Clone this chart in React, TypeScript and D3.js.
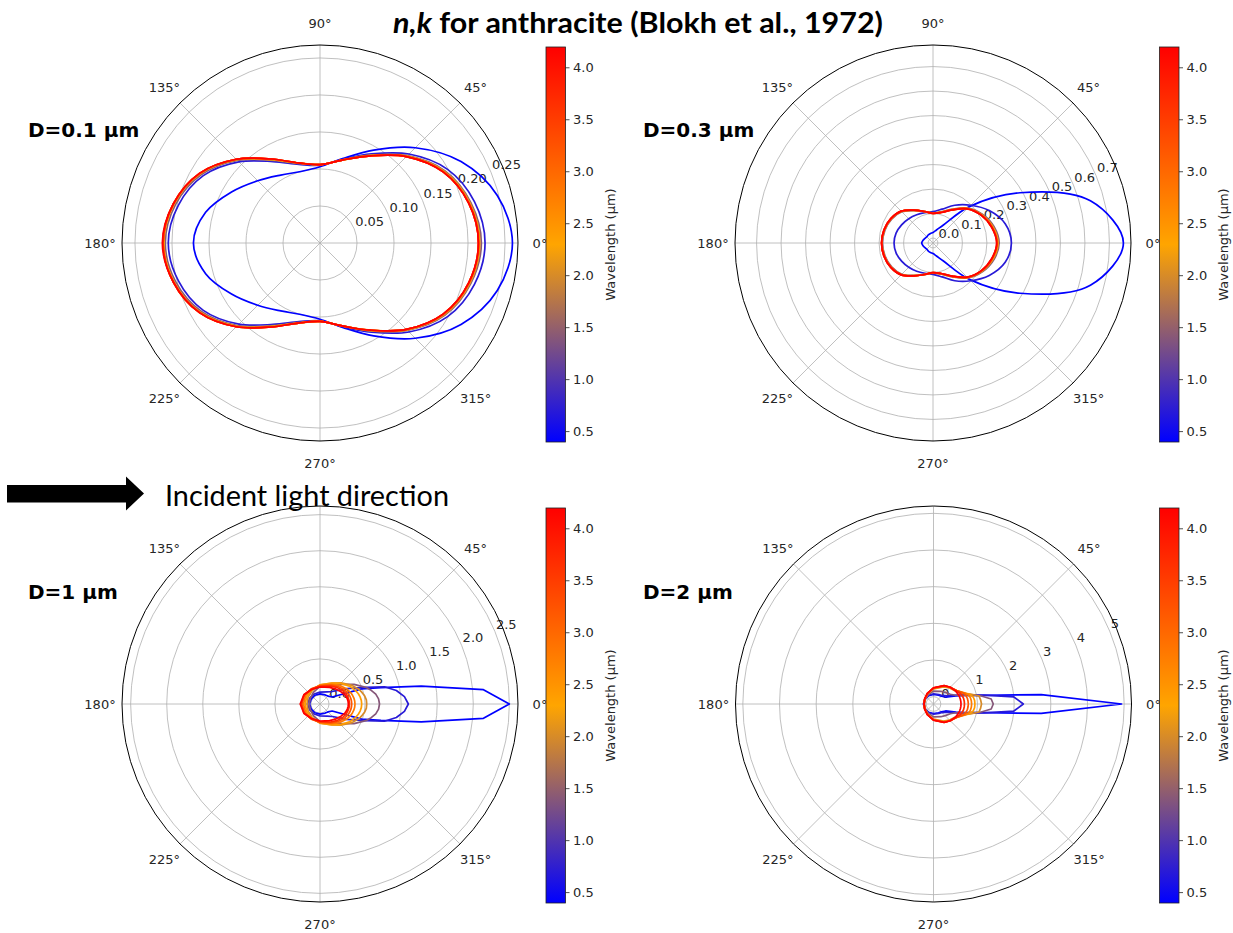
import React from 'react';
import * as d3 from 'd3';

// ---------------- data ----------------
const WAVELENGTHS = [0.4, 0.7, 1.4, 2.0, 2.4, 2.8, 3.2, 3.7, 4.2];
const CMAP_DOMAIN = [0.4, 2.3, 4.2];
const CMAP_COLORS = ['#0000ff', '#ffa500', '#ff0000'];
const CBAR_TICKS = [0.5, 1.0, 1.5, 2.0, 2.5, 3.0, 3.5, 4.0];
const THETA_TICKS = [0, 45, 90, 135, 180, 225, 270, 315];
const THETA_TICKS_LOWER = [0, 45, 135, 180, 225, 270, 315]; // 90° label hidden behind the annotation in the lower row

// scattering angles (deg), upper half; curves are symmetric about 0-180 axis
const ANGLES_SMOOTH = [0, 15, 30, 45, 60, 75, 90, 105, 120, 135, 150, 165, 180];
const ANGLES_PEAKED = [0, 5, 10, 15, 20, 30, 45, 60, 90, 120, 150, 180];

// D = 0.1 um (one row per wavelength)
const D01_VALUES = [
  [0.260, 0.248, 0.220, 0.182, 0.145, 0.118, 0.103, 0.100, 0.106, 0.119, 0.138, 0.160, 0.171],
  [0.223, 0.216, 0.199, 0.170, 0.139, 0.117, 0.105, 0.110, 0.127, 0.155, 0.182, 0.198, 0.205],
  [0.218, 0.211, 0.195, 0.167, 0.137, 0.116, 0.106, 0.111, 0.129, 0.158, 0.185, 0.202, 0.209],
  [0.216, 0.210, 0.194, 0.166, 0.137, 0.116, 0.106, 0.112, 0.130, 0.159, 0.187, 0.204, 0.211],
  [0.215, 0.209, 0.193, 0.166, 0.136, 0.116, 0.106, 0.112, 0.130, 0.159, 0.187, 0.204, 0.211],
  [0.215, 0.208, 0.193, 0.165, 0.136, 0.116, 0.106, 0.112, 0.131, 0.160, 0.188, 0.205, 0.212],
  [0.214, 0.208, 0.192, 0.165, 0.136, 0.116, 0.106, 0.112, 0.131, 0.160, 0.188, 0.205, 0.212],
  [0.214, 0.208, 0.192, 0.165, 0.136, 0.116, 0.106, 0.112, 0.131, 0.160, 0.188, 0.205, 0.212],
  [0.214, 0.208, 0.192, 0.165, 0.136, 0.116, 0.106, 0.112, 0.131, 0.160, 0.188, 0.205, 0.213],
];

// D = 0.3 um
const D03_VALUES = [
  [0.757, 0.645, 0.390, 0.190, 0.065, 0.035, 0.023, 0.020, 0.018, 0.016, 0.018, 0.022, 0.026],
  [0.300, 0.285, 0.245, 0.198, 0.158, 0.123, 0.108, 0.108, 0.113, 0.120, 0.128, 0.136, 0.139],
  [0.250, 0.238, 0.214, 0.182, 0.140, 0.112, 0.103, 0.113, 0.133, 0.160, 0.175, 0.183, 0.186],
  [0.246, 0.234, 0.211, 0.180, 0.138, 0.111, 0.102, 0.113, 0.134, 0.162, 0.177, 0.185, 0.188],
  [0.244, 0.232, 0.209, 0.179, 0.137, 0.110, 0.102, 0.113, 0.134, 0.163, 0.178, 0.186, 0.189],
  [0.242, 0.230, 0.208, 0.178, 0.137, 0.110, 0.101, 0.113, 0.135, 0.163, 0.178, 0.186, 0.189],
  [0.241, 0.229, 0.208, 0.178, 0.136, 0.109, 0.101, 0.113, 0.135, 0.164, 0.179, 0.187, 0.190],
  [0.240, 0.228, 0.207, 0.177, 0.136, 0.109, 0.101, 0.113, 0.135, 0.164, 0.179, 0.187, 0.190],
  [0.240, 0.228, 0.207, 0.177, 0.136, 0.109, 0.101, 0.113, 0.135, 0.164, 0.179, 0.187, 0.190],
];

// D = 1 um
const D1_VALUES = [
  [2.50, 2.15, 1.30, 0.75, 0.49, 0.07, 0.03, 0.02, 0.015, 0.015, 0.015, 0.02],
  [1.10, 1.05, 0.95, 0.80, 0.55, 0.30, 0.12, 0.07, 0.04, 0.035, 0.04, 0.05],
  [0.70, 0.69, 0.66, 0.61, 0.55, 0.42, 0.26, 0.18, 0.12, 0.06, 0.03, 0.025],
  [0.523, 0.52, 0.505, 0.48, 0.455, 0.39, 0.29, 0.21, 0.14, 0.09, 0.065, 0.055],
  [0.453, 0.45, 0.44, 0.425, 0.405, 0.36, 0.28, 0.21, 0.14, 0.10, 0.085, 0.083],
  [0.36, 0.358, 0.352, 0.342, 0.33, 0.30, 0.245, 0.19, 0.135, 0.112, 0.105, 0.104],
  [0.315, 0.313, 0.309, 0.302, 0.292, 0.268, 0.222, 0.178, 0.128, 0.117, 0.122, 0.125],
  [0.284, 0.282, 0.278, 0.272, 0.264, 0.243, 0.202, 0.163, 0.12, 0.114, 0.131, 0.138],
  [0.268, 0.266, 0.261, 0.253, 0.242, 0.212, 0.172, 0.140, 0.111, 0.108, 0.133, 0.150],
];

// D = 2 um
const D2_VALUES = [
  [4.93, 2.75, 1.16, 0.70, 0.45, 0.18, 0.10, 0.075, 0.06, 0.06, 0.06, 0.06],
  [2.25, 2.00, 1.20, 0.75, 0.50, 0.25, 0.13, 0.10, 0.08, 0.075, 0.075, 0.075],
  [1.43, 1.38, 1.10, 0.72, 0.48, 0.33, 0.25, 0.20, 0.15, 0.09, 0.06, 0.05],
  [1.11, 1.09, 1.06, 0.85, 0.66, 0.50, 0.42, 0.34, 0.21, 0.12, 0.07, 0.055],
  [0.93, 0.925, 0.90, 0.82, 0.68, 0.52, 0.43, 0.36, 0.22, 0.125, 0.072, 0.057],
  [0.84, 0.835, 0.82, 0.78, 0.70, 0.53, 0.44, 0.37, 0.23, 0.13, 0.075, 0.058],
  [0.75, 0.745, 0.735, 0.71, 0.67, 0.53, 0.445, 0.375, 0.235, 0.132, 0.076, 0.058],
  [0.645, 0.642, 0.635, 0.62, 0.60, 0.52, 0.446, 0.38, 0.24, 0.134, 0.077, 0.059],
  [0.55, 0.549, 0.544, 0.536, 0.528, 0.501, 0.446, 0.381, 0.242, 0.135, 0.077, 0.059],
];

const D01_RTICKS = [0.05, 0.10, 0.15, 0.20, 0.25];
const D03_RTICKS = [0.0, 0.1, 0.2, 0.3, 0.4, 0.5, 0.6, 0.7];
const D1_RTICKS = [0.0, 0.5, 1.0, 1.5, 2.0, 2.5];
const D2_RTICKS = [0, 1, 2, 3, 4, 5];

// ---------------- layout ----------------
const W = 1233;
const H = 933;
const R = 198;
const FONT = 'DejaVu Sans, sans-serif';
const TXT = '#262626';

const colorScale = d3.scaleLinear<string>().domain(CMAP_DOMAIN).range(CMAP_COLORS).interpolate(d3.interpolateRgb);

type Panel = {
  cx: number; cy: number; rmin: number; rmax: number; rticks: number[]; fmt: (v: number) => string;
  angles: number[]; values: number[][]; curve: d3.CurveFactory; label: string; lx: number; ly: number;
  cbx: number; cbTop: number; thetaTicks: number[];
};

const PANELS: Panel[] = [
  { cx: 320, cy: 243, rmin: 0, rmax: 0.2675, rticks: D01_RTICKS, fmt: d3.format('.2f'), angles: ANGLES_SMOOTH,
    values: D01_VALUES, curve: d3.curveCatmullRomClosed, label: 'D=0.1 µm', lx: 28, ly: 137, cbx: 546, cbTop: 47, thetaTicks: THETA_TICKS },
  { cx: 933, cy: 243, rmin: -0.02, rmax: 0.788, rticks: D03_RTICKS, fmt: d3.format('.1f'), angles: ANGLES_SMOOTH,
    values: D03_VALUES, curve: d3.curveCatmullRomClosed, label: 'D=0.3 µm', lx: 643, ly: 137, cbx: 1159.5, cbTop: 47, thetaTicks: THETA_TICKS },
  { cx: 320, cy: 704, rmin: -0.125, rmax: 2.62, rticks: D1_RTICKS, fmt: d3.format('.1f'), angles: ANGLES_PEAKED,
    values: D1_VALUES, curve: d3.curveLinearClosed, label: 'D=1 µm', lx: 28, ly: 599, cbx: 546, cbTop: 508, thetaTicks: THETA_TICKS_LOWER },
  { cx: 933.5, cy: 704, rmin: -0.2, rmax: 5.2, rticks: D2_RTICKS, fmt: d3.format('d'), angles: ANGLES_PEAKED,
    values: D2_VALUES, curve: d3.curveLinearClosed, label: 'D=2 µm', lx: 643, ly: 599, cbx: 1159.5, cbTop: 508, thetaTicks: THETA_TICKS_LOWER },
];

const CB_W = 19.5;
const CB_H = 395;

function PolarPanel({ p }: { p: Panel }) {
  const r = d3.scaleLinear().domain([p.rmin, p.rmax]).range([0, R]);
  const line = d3
    .lineRadial<[number, number]>()
    .angle((d) => Math.PI / 2 - (d[0] * Math.PI) / 180)
    .radius((d) => r(d[1]))
    .curve(p.curve);
  const rad = (deg: number) => (deg * Math.PI) / 180;
  const labAng = rad(22.5);
  return (
    <g transform={`translate(${p.cx},${p.cy})`}>
      {p.rticks.map((t) => (
        <circle key={'c' + t} r={Math.max(r(t), 0.5)} fill="none" stroke="#b0b0b0" strokeWidth={0.8} />
      ))}
      {THETA_TICKS.map((a) => (
        <line key={'s' + a} x1={0} y1={0} x2={R * Math.cos(rad(a))} y2={-R * Math.sin(rad(a))} stroke="#b0b0b0" strokeWidth={0.8} />
      ))}
      {p.rticks.map((t) => (
        <text key={'rl' + t} x={r(t) * Math.cos(labAng) + 1} y={-r(t) * Math.sin(labAng) - 3} fontSize={13} fontFamily={FONT} fill={TXT}>
          {p.fmt(t)}
        </text>
      ))}
      {p.values.map((vals, i) => {
        const upper: [number, number][] = p.angles.map((a, j) => [a, vals[j]]);
        const lower: [number, number][] = [];
        for (let j = p.angles.length - 2; j >= 1; j--) lower.push([360 - p.angles[j], vals[j]]);
        return (
          <path key={'w' + i} d={line(upper.concat(lower)) || ''} fill="none" stroke={colorScale(WAVELENGTHS[i])} strokeWidth={1.7} strokeLinejoin="round" />
        );
      })}
      <circle r={R} fill="none" stroke="#000" strokeWidth={1} />
      {p.thetaTicks.map((a) => (
        <text key={'tl' + a} x={220 * Math.cos(rad(a))} y={-220 * Math.sin(rad(a))} textAnchor="middle" dominantBaseline="central" fontSize={13} fontFamily={FONT} fill={TXT}>
          {a + '°'}
        </text>
      ))}
    </g>
  );
}

function Colorbar({ p, id }: { p: Panel; id: string }) {
  const y = d3.scaleLinear().domain([CMAP_DOMAIN[0], CMAP_DOMAIN[2]]).range([p.cbTop + CB_H, p.cbTop]);
  const stops = d3.range(0, 1.0001, 0.1);
  return (
    <g>
      <defs>
        <linearGradient id={id} x1="0" y1="1" x2="0" y2="0">
          {stops.map((s) => (
            <stop key={s} offset={`${s * 100}%`} stopColor={colorScale(CMAP_DOMAIN[0] + s * (CMAP_DOMAIN[2] - CMAP_DOMAIN[0]))} />
          ))}
        </linearGradient>
      </defs>
      <rect x={p.cbx} y={p.cbTop} width={CB_W} height={CB_H} fill={`url(#${id})`} stroke="#222" strokeWidth={0.8} />
      {CBAR_TICKS.map((t) => (
        <g key={t}>
          <line x1={p.cbx + CB_W} x2={p.cbx + CB_W + 4} y1={y(t)} y2={y(t)} stroke="#222" strokeWidth={0.8} />
          <text x={p.cbx + CB_W + 7.5} y={y(t)} dominantBaseline="central" fontSize={13} fontFamily={FONT} fill={TXT}>
            {d3.format('.1f')(t)}
          </text>
        </g>
      ))}
      <text
        transform={`translate(${p.cbx + 64},${p.cbTop + CB_H / 2}) rotate(-90)`}
        textAnchor="middle"
        dominantBaseline="central"
        fontSize={13}
        fontFamily={FONT}
        fill={TXT}
      >
        Wavelength (µm)
      </text>
    </g>
  );
}

export default function App() {
  return (
    <svg width={W} height={H} style={{ position: 'absolute', left: 0, top: 0, background: '#fff' }}>
      <rect x={0} y={0} width={W} height={H} fill="#fff" />
      {PANELS.map((p, i) => (
        <g key={i}>
          <PolarPanel p={p} />
          <Colorbar p={p} id={'cbgrad' + i} />
          <text x={p.lx} y={p.ly} fontSize={20} fontWeight="bold" fontFamily={FONT} fill="#000">
            {p.label}
          </text>
        </g>
      ))}
      <text x={638} y={33} textAnchor="middle" fontSize={28} fontWeight="bold" fontFamily="Lato, sans-serif" fill="#000" textLength={490} lengthAdjust="spacingAndGlyphs">
        <tspan fontStyle="italic">n,k</tspan>
        <tspan> for anthracite (Blokh et al., 1972)</tspan>
      </text>
      <polygon points="7,485 126,485 126,476.5 144,493.5 126,510.5 126,502.5 7,502.5" fill="#000" />
      <text x={165} y={506} fontSize={28} fontFamily="Lato, sans-serif" fill="#000" textLength={284} lengthAdjust="spacingAndGlyphs">
        Incident light direction
      </text>
    </svg>
  );
}
